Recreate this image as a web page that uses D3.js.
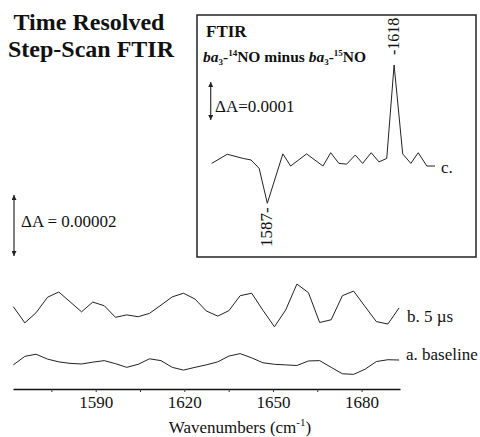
<!DOCTYPE html>
<html>
<head>
<meta charset="utf-8">
<script src="https://cdn.jsdelivr.net/npm/d3@7"></script>
<style>
  body { margin: 0; background: #fff; }
  text { font-family: "Liberation Serif", "Times New Roman", serif; fill: #111; }
</style>
</head>
<body>
<div id="chart"></div>
<script>
// main panel: wavenumbers (cm-1) of the step-scan points
const wavenumbers = [1562.1, 1566.0, 1569.8, 1573.7, 1577.5, 1581.3, 1585.2, 1589.0, 1592.9, 1596.7,
  1600.5, 1604.4, 1608.2, 1612.1, 1615.9, 1619.7, 1623.6, 1627.4, 1631.3, 1635.1,
  1638.9, 1642.8, 1646.6, 1650.5, 1654.3, 1658.1, 1662.0, 1665.8, 1669.7, 1673.5,
  1677.3, 1681.2, 1685.0, 1688.9, 1692.7];

// dA x 1e5, traces stacked (b above a)
const trace5us = [2.70, 2.17, 2.50, 3.01, 3.18, 2.86, 2.53, 2.85, 2.73, 2.35,
  2.43, 2.37, 2.48, 2.75, 3.02, 3.14, 2.95, 2.56, 2.39, 2.57,
  3.06, 3.14, 2.58, 2.04, 2.59, 3.44, 3.16, 2.18, 2.27, 3.06,
  3.21, 2.70, 2.21, 2.13, 2.66];
const traceBaseline = [0.79, 1.07, 1.14, 0.98, 0.89, 0.84, 0.82, 0.88, 0.93, 0.83,
  0.71, 0.81, 0.99, 0.93, 0.71, 0.62, 0.71, 0.79, 0.89, 1.08,
  1.16, 1.02, 0.86, 0.81, 0.79, 0.77, 0.92, 0.93, 0.71, 0.50,
  0.48, 0.65, 0.90, 0.96, 0.95];

const xTicks = [1575, 1590, 1605, 1620, 1635, 1650, 1665, 1680];
const xTickLabels = ["", "1590", "", "1620", "", "1650", "", "1680"];

// inset: FTIR 14NO minus 15NO (dA x 1e4)
const insetWn = [1573.4, 1577.2, 1581.1, 1583.0, 1585.0, 1587.0, 1590.8, 1592.7, 1596.6, 1600.6,
  1602.5, 1604.5, 1606.4, 1608.5, 1610.3, 1612.4, 1614.3, 1616.2, 1618.0, 1620.1,
  1622.1, 1623.9, 1626.0, 1628.0];
const insetDA = [-0.01, 0.23, 0.12, 0.08, -0.14, -1.06, 0.24, -0.08, 0.24, -0.08,
  0.27, -0.01, -0.03, 0.21, -0.01, 0.27, 0.03, 0.12, 2.58, 0.24,
  -0.01, 0.27, -0.08, -0.08];

const svg = d3.select("#chart").append("svg")
  .attr("width", 480)
  .attr("height", 437);

const defs = svg.append("defs");
["arrowUp", "arrowDown"].forEach(function(id, i) {
  defs.append("marker")
    .attr("id", id)
    .attr("viewBox", "0 0 10 10")
    .attr("refX", 5).attr("refY", i === 0 ? 0 : 10)
    .attr("markerWidth", 5).attr("markerHeight", 6)
    .attr("markerUnits", "userSpaceOnUse")
    .append("path")
      .attr("d", i === 0 ? "M0,10 L5,0 L10,10 Z" : "M0,0 L5,10 L10,0 Z")
      .attr("fill", "#222");
});

// title
const title = svg.append("text")
  .attr("text-anchor", "middle")
  .style("font-weight", "bold")
  .style("font-size", "24px");
title.append("tspan").attr("x", 89).attr("y", 30).text("Time Resolved");
title.append("tspan").attr("x", 91).attr("y", 57).text("Step-Scan FTIR");

// main scales
const x = d3.scaleLinear().domain([1562, 1693]).range([13, 400]);
const y = d3.scaleLinear().domain([0, 1]).range([389, 358.5]);

const xAxis = svg.append("g")
  .attr("transform", "translate(0,389)")
  .call(d3.axisBottom(x)
    .tickValues(xTicks)
    .tickFormat(function(d, i) { return xTickLabels[i]; })
    .tickSizeInner(3)
    .tickSizeOuter(0)
    .tickPadding(4));
xAxis.select(".domain").attr("stroke", "#111").attr("stroke-width", 1.6);
xAxis.selectAll(".tick line").attr("stroke", "#333");
xAxis.selectAll(".tick text")
  .style("font-family", "'Liberation Serif', serif")
  .style("font-size", "17px")
  .attr("fill", "#111");

const xLabel = svg.append("text")
  .attr("x", 240).attr("y", 433)
  .attr("text-anchor", "middle")
  .style("font-size", "17px")
  .text("Wavenumbers (cm");
xLabel.append("tspan").attr("dy", -7).style("font-size", "11px").text("-1");
xLabel.append("tspan").attr("dy", 7).text(")");

const line = d3.line()
  .x(function(d) { return x(d[0]); })
  .y(function(d) { return y(d[1]); });

svg.append("path")
  .datum(wavenumbers.map(function(w, i) { return [w, trace5us[i]]; }))
  .attr("d", line)
  .attr("fill", "none").attr("stroke", "#222").attr("stroke-width", 1);

svg.append("path")
  .datum(wavenumbers.map(function(w, i) { return [w, traceBaseline[i]]; }))
  .attr("d", line)
  .attr("fill", "none").attr("stroke", "#222").attr("stroke-width", 1);

svg.append("text").attr("x", 407).attr("y", 322)
  .style("font-size", "17px").text("b. 5 \u00b5s");
svg.append("text").attr("x", 406).attr("y", 360)
  .style("font-size", "17px").text("a. baseline");

// main scale bar: 2e-5
svg.append("line")
  .attr("x1", 14).attr("x2", 14)
  .attr("y1", y(0) - 133).attr("y2", y(2) - 133)
  .attr("stroke", "#555").attr("stroke-width", 1.5)
  .attr("marker-start", "url(#arrowDown)")
  .attr("marker-end", "url(#arrowUp)");
svg.append("text").attr("x", 21).attr("y", 227)
  .style("font-size", "17px").text("\u0394A = 0.00002");

// inset
svg.append("rect")
  .attr("x", 197).attr("y", 15).attr("width", 279).attr("height", 242)
  .attr("fill", "none").attr("stroke", "#222").attr("stroke-width", 1.5);

svg.append("text").attr("x", 206).attr("y", 37)
  .style("font-weight", "bold").style("font-size", "17px").text("FTIR");

const sub = svg.append("text").attr("x", 203).attr("y", 62)
  .style("font-weight", "bold").style("font-size", "15.5px");
sub.append("tspan").style("font-style", "italic").text("ba");
sub.append("tspan").attr("dy", 3).style("font-size", "9px").text("3");
sub.append("tspan").attr("dy", -3).text("-");
sub.append("tspan").attr("dy", -6).style("font-size", "9px").text("14");
sub.append("tspan").attr("dy", 6).text("NO minus ");
sub.append("tspan").style("font-style", "italic").text("ba");
sub.append("tspan").attr("dy", 3).style("font-size", "9px").text("3");
sub.append("tspan").attr("dy", -3).text("-");
sub.append("tspan").attr("dy", -6).style("font-size", "9px").text("15");
sub.append("tspan").attr("dy", 6).text("NO");

const ix = d3.scaleLinear().domain([1573.4, 1628]).range([211.7, 435]);
const iy = d3.scaleLinear().domain([0, 1]).range([163, 125]);

svg.append("path")
  .datum(insetWn.map(function(w, i) { return [w, insetDA[i]]; }))
  .attr("d", d3.line().x(function(d) { return ix(d[0]); }).y(function(d) { return iy(d[1]); }))
  .attr("fill", "none").attr("stroke", "#222").attr("stroke-width", 1);

// inset scale bar: 1e-4
svg.append("line")
  .attr("x1", 210.7).attr("x2", 210.7)
  .attr("y1", iy(0) - 43).attr("y2", iy(1) - 43)
  .attr("stroke", "#333").attr("stroke-width", 1.2)
  .attr("marker-start", "url(#arrowDown)")
  .attr("marker-end", "url(#arrowUp)");
svg.append("text").attr("x", 215).attr("y", 112)
  .style("font-size", "17px").text("\u0394A=0.0001");

// peak labels
const peakIdx = insetDA.indexOf(d3.max(insetDA));
const dipIdx = insetDA.indexOf(d3.min(insetDA));
svg.append("text")
  .attr("transform", "translate(" + (ix(insetWn[peakIdx]) + 5) + "," + (iy(insetDA[peakIdx]) - 10) + ") rotate(-90)")
  .style("font-size", "16px").text("-1618");
svg.append("text")
  .attr("transform", "translate(" + (ix(insetWn[dipIdx]) + 5) + "," + (iy(insetDA[dipIdx]) + 4) + ") rotate(-90)")
  .attr("text-anchor", "end")
  .style("font-size", "17px").text("1587-");

svg.append("text").attr("x", 441).attr("y", 173)
  .style("font-size", "17px").text("c.");
</script>
</body>
</html>
